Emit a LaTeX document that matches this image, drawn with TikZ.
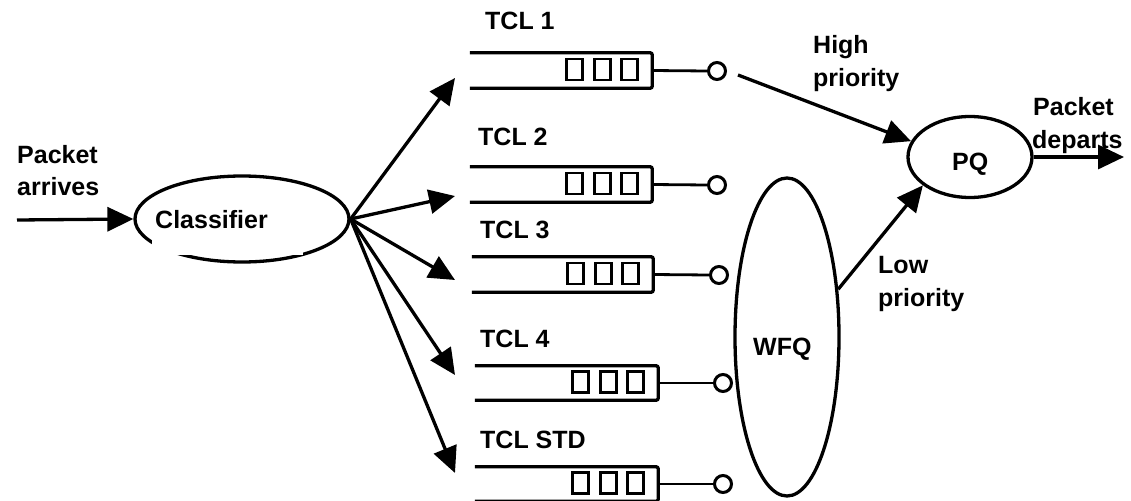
\documentclass[tikz,border=0pt]{standalone}
\usepackage{fontspec}
\setmainfont{Liberation Sans}
\usetikzlibrary{arrows.meta,shapes.geometric,calc}
\newcommand\drawqueue[5]{%
  \node[inner sep=0pt, minimum width={#3-#2}, minimum height={#5-#4}] (#1) at ({(#2+#3)/2},{(#4+#5)/2}) {};
  \draw[ln, rounded corners=2pt] (#1.north west) -- (#1.north east) -- (#1.south east) -- (#1.south west);
  \foreach \k in {86,58,31} \draw[qbox] ($(#1.east)+(-\k,-11.5)$) rectangle ++(16,21);
}
\begin{document}
\begin{tikzpicture}[x=1pt,y=-1pt,
  lbl/.style={font=\fontsize{25}{30}\selectfont\bfseries, inner sep=0pt, anchor=base west},
  arr/.style={line width=3.3pt, -{Triangle[length=26pt,width=24pt]}},
  ln/.style={line width=3.3pt},
  wire/.style={line width=2.8pt},
  qbox/.style={line width=2.8pt},
  port/.style={circle, draw, line width=3pt, minimum size=17pt, inner sep=0pt, fill=white},
  ell/.style={ellipse, draw, line width=3.3pt, inner sep=0pt}]
\useasboundingbox (0,0) rectangle (1131,500);

% queues
\drawqueue{q1}{470}{652}{53}{88}
\drawqueue{q2}{470}{652}{167}{202}
\drawqueue{q3}{472}{653}{257}{292}
\drawqueue{q4}{475}{658}{366}{400}
\drawqueue{q5}{475}{658}{467}{501}

% output ports
\node[port] (c1) at (717,71) {};
\node[port] (c2) at (717,185) {};
\node[port] (c3) at (719,275) {};
\node[port] (c4) at (723,383) {};
\node[port] (c5) at (723,484) {};
\foreach \i in {1,...,5} \draw[wire] (q\i.east) -- (c\i.west);

% classifier
\node[ell, minimum width=214pt, minimum height=86pt] (cls) at (242,219) {};
\fill[white] (152,200) rectangle (303,255);
\node[lbl] (clst) at (155,228) {Classifier};

\coordinate (src) at (17,220);
\draw[arr] (src) -- (cls.west);

\coordinate (t1) at (455,78);
\coordinate (t2) at (455,196);
\coordinate (t3) at (455,280);
\coordinate (t4) at (455,375);
\coordinate (t5) at (455,473);
\foreach \i in {1,...,5} \draw[arr] (cls.east) -- (t\i);

% WFQ and PQ
\node[ell, minimum width=104pt, minimum height=318pt] (wfq) at (787,337) {};
\node[lbl] (wfqt) at (753,355) {WFQ};
\node[ell, minimum width=124pt, minimum height=81pt] (pq) at (970,157) {};
\node[lbl] (pqt) at (952,170) {PQ};

\coordinate (hp) at (738,75);
\draw[arr] (hp) -- (pq.165);
\draw[arr] (wfq.43) -- (pq.211);
\coordinate (dst) at (1124,157);
\draw[arr] (pq.east) -- (dst);

% labels
\node[lbl] (pa1) at (17,163) {Packet};
\node[lbl] (pa2) at (17,195) {arrives};
\node[lbl] (l1) at (485,30) {TCL 1};
\node[lbl] (l2) at (478,145) {TCL 2};
\node[lbl] (l3) at (480,238) {TCL 3};
\node[lbl] (l4) at (480,347) {TCL 4};
\node[lbl] (l5) at (480,448) {TCL STD};
\node[lbl] (hi1) at (813,54) {High};
\node[lbl] (hi2) at (813,87) {priority};
\node[lbl] (lo1) at (878,273) {Low};
\node[lbl] (lo2) at (878,306) {priority};
\node[lbl] (pd1) at (1033,115) {Packet};
\node[lbl] (pd2) at (1032,148) {departs};
\end{tikzpicture}
\end{document}
